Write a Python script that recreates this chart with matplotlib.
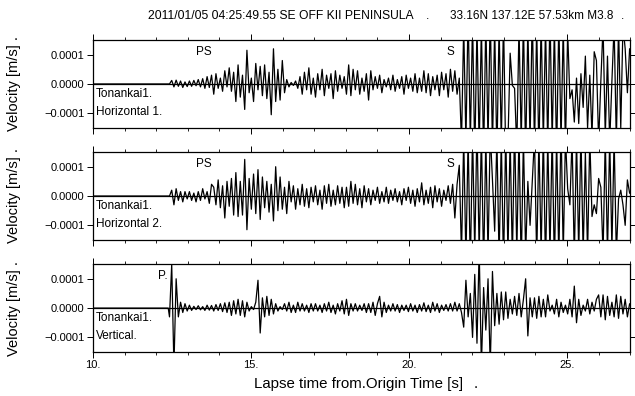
import numpy as np
import matplotlib
matplotlib.use("Agg")
import matplotlib.pyplot as plt

plt.rcParams['font.family'] = ['Liberation Sans', 'DejaVu Sans']

# peak velocities in 1e-5 m/s, one value every DT seconds from START
START = 12.42
DT = 0.07

h1 = [
    0, 1.2, -1.0, 1.3, -0.8, 1.0, -1.2, 0.7, -0.9, 1.0,
    -0.8, 1.2, -0.6, 1.5, -1.0, 1.8, -1.5, 2.5, -1.2, 3.0,
    -3.5, 3.5, -1.5, 2.0, -2.5, 4.5, -1.0, 5.5, -2.5, 4.0,
    -6.0, 6.5, -4.5, 3.0, -8.7, 11.5, -3.0, 2.0, -6.0, 7.0,
    -2.0, 6.0, -4.0, 6.5, -5.0, 4.0, -10.5, 12.0, -6.0, 5.0,
    -5.5, 8.0, -3.0, 1.5, -1.0, 0.5, -0.5, 1.0, -1.5, 2.5,
    -3.5, 4.0, -2.0, 5.5, -3.5, 2.0, -4.5, 3.5, -2.0, 5.0,
    -4.0, 3.0, -1.5, 3.5, -5.0, 4.5, -2.5, 3.0, -1.5, 2.5,
    -3.5, 6.5, -4.0, 5.0, -2.0, 4.5, -3.5, 2.0, -2.5, 3.5,
    -5.5, 4.5, -2.0, 2.5, -1.5, 3.0, -3.0, 1.5, -1.0, 2.0,
    -2.0, 3.0, -2.5, 1.5, -1.5, 2.5, -3.5, 3.0, -1.5, 2.0,
    -2.5, 3.5, -3.0, 2.0, -2.5, 4.5, -3.0, 3.5, -4.0, 2.5,
    -2.0, 3.0, -4.0, 4.0, -2.0, 3.5, -4.5, 5.0, -2.5, 4.5,
    -3.5, 2.0, -20, 20, -20, 25, -20, 22, -25, 20,
    -22, 20, -25, 22, -20, 25, -22, 20, -25, 20,
    -20, 22, -25, -20, 10.5, -0.5, -1.5, -22, 20, -20,
    22, -25, 20, -20, 25, -22, 20, -25, 22, -20,
    20, -22, 25, -20, 20, -25, 22, -20, 20, -22,
    18, -5.0, -2.0, -13.0, 2.0, -13.5, 3.5, -8.0, 9.5, -15,
    3.0, -18, 11, 8, -20, 1.0, 20, -18, 9.5, -20,
    1.0, 20, -20, 20, -15, 20, 12, -3, 12, 12,
]

h2 = [
    0, 2.0, -3.0, 2.5, -1.5, 1.5, -2.0, 1.5, -1.0, 1.5,
    -1.5, 1.0, -2.0, 1.5, -1.5, 2.5, -1.0, 1.5, -2.5, 4.0,
    3.0, -3.0, 5.5, -4.0, 3.5, -7.5, 5.0, -3.5, 6.0, -6.5,
    8.0, -7.0, 5.0, -6.5, 12.5, -11.5, 6.0, -4.5, 7.5, -6.0,
    9.0, -8.0, 6.5, -4.0, 5.0, -5.5, 4.0, -8.5, 10.0, -5.0,
    6.5, -4.5, 3.0, -6.0, 5.0, -2.0, 3.5, -4.5, 2.5, -3.0,
    4.0, -3.5, 2.5, -4.0, 3.0, -2.0, 3.5, -3.0, 2.0, -4.5,
    3.5, -2.5, 4.0, -3.5, 2.0, -3.0, 3.5, -2.5, 3.0, -4.0,
    3.0, -3.5, 5.0, -2.5, 4.0, -3.0, 2.5, -4.0, 3.5, -2.0,
    2.5, -3.0, 2.0, -1.5, 3.0, -2.5, 1.5, -2.0, 3.0, -2.5,
    2.0, -1.5, 2.5, -2.0, 1.5, -3.0, 2.5, -1.5, 3.0, -2.5,
    2.0, -3.5, 2.5, -2.0, 4.5, -3.0, 2.0, -2.5, 3.0, -4.0,
    3.5, -2.0, 2.5, -3.5, 2.0, -1.5, 3.5, -2.5, 4.0, -7.5,
    4.0, 10.5, -20, 20, -22, 20, -25, 22, -20, 25,
    -20, 22, -25, 20, -20, 22, 5.5, -12, 20, -22,
    20, -25, 22, -20, 20, -22, 25, -20, 22, -25,
    20, -20, 5, -10, 5, 20, -22, 20, -20, 22,
    -25, 20, -20, 22, -25, 20, -22, 25, -20, 20,
    2.5, -3.0, 20, -22, 20, -20, 22, -20, 15, -20,
    20, -7.0, -3.0, -6.0, 6.0, 3.0, -20, 20, -20, 20,
    -18, 20, -20, -1.0, 2.0, -3.0, -10, 5.5, 1.0, 0.5,
]

vert = [
    -3.0, 15.0, -20, 10.0, -3.0, 2.0, -1.5, 1.5, -1.0, 1.0,
    -0.8, 0.6, -0.5, 0.8, -0.6, 0.5, -0.8, 1.0, -0.7, 0.9,
    -1.0, 1.2, -0.8, 1.5, -1.2, 1.8, -1.5, 2.0, -2.5, 2.5,
    -2.0, 3.0, -2.5, 2.5, -3.0, 2.0, -1.0, 0.5, -0.5, 2.0,
    9.5, -8.5, 3.5, -3.0, 4.0, -2.5, 3.0, -2.0, 1.5, -1.0,
    0.5, -0.5, 1.5, -1.0, 2.0, -1.5, 1.0, -1.5, 2.0, -1.0,
    1.5, -1.0, 1.0, -1.5, 1.5, -1.0, 1.5, -1.0, 1.0, -1.5,
    1.5, -1.0, 2.0, -1.5, 1.0, -2.0, 1.5, -1.0, 2.5, -2.0,
    3.0, -2.5, 1.5, -1.0, 1.5, -1.0, 1.0, -0.8, 1.5, -1.5,
    1.5, -1.5, 2.0, -2.5, 1.5, 4.0, -3.0, 2.0, -1.5, 1.0,
    -1.0, 1.5, -1.0, 1.2, -1.5, 1.0, -0.8, 1.0, -1.2, 1.5,
    -1.0, 1.0, -1.5, 1.2, -1.0, 1.8, -1.2, 1.0, -1.5, 2.0,
    -1.0, 1.5, -1.5, 1.0, -0.8, 1.2, -1.0, 1.5, -1.0, 2.0,
    -1.0, 1.5, -1.5, -6.5, 9.5, -3.0, 5.0, -10.0, 11.5, -12.0,
    20, -20, 7.0, -7.5, 10.0, -20, 12.5, -6.0, 5.0, -5.5,
    5.5, -4.0, 5.5, -3.5, 3.0, -2.0, 4.0, -2.5, 5.0, -3.0,
    3.0, 10.0, -9.5, 3.5, -3.0, 3.5, -3.5, 4.0, -3.0, 3.0,
    -3.0, 4.5, -1.0, 1.0, -2.0, 3.0, -3.0, 2.0, -1.5, 1.0,
    -2.0, 3.0, -3.0, 7.5, -5.0, 3.0, -2.5, 1.0, -1.0, 3.0,
    -2.0, 2.0, -1.0, 3.0, 4.5, -3.0, 4.5, -4.0, 4.0, -2.5,
    2.0, -3.0, 4.5, -3.5, 4.0, -2.0, 3.0, -3.0, 1.5, 0.5,
]

components = ["Horizontal 1.", "Horizontal 2.", "Vertical."]
phases = [[("PS", 13.25), ("S", 21.2)], [("PS", 13.25), ("S", 21.2)], [("P.", 12.05)]]
xticks = [10, 15, 20, 25]
xticklabels = ["10.", "15.", "20.", "25."]
yticks = [-1e-4, 0, 1e-4]
yticklabels = ["\u22120.0001", "0.0000", "0.0001"]

fig = plt.figure(figsize=(6.35, 3.96), dpi=100)
left, width, height = 0.1465, 0.846, 0.222
bottoms = [0.677, 0.394, 0.111]

for i, vals in enumerate([h1, h2, vert]):
    ax = fig.add_axes([left, bottoms[i], width, height])
    t = np.concatenate([[10.0, START - 0.04], START + DT * np.arange(len(vals))])
    v = np.concatenate([[0.0, 0.0], np.array(vals) * 1e-5])
    ax.plot(t, v, color="black", lw=0.9)
    ax.axhline(0, color="black", lw=0.9)
    ax.set_xlim(10, 27)
    ax.set_ylim(-1.5e-4, 1.5e-4)
    ax.set_xticks(xticks)
    ax.set_xticks(np.arange(10, 28, 1), minor=True)
    ax.set_yticks(yticks)
    ax.set_yticklabels(yticklabels, fontsize=8)
    if i == 2:
        ax.set_xticklabels(xticklabels, fontsize=8)
    else:
        ax.set_xticklabels([])
    ax.tick_params(which="both", direction="out", top=True, right=True, labelsize=8, pad=2)
    ax.tick_params(which="major", length=4, width=0.7)
    ax.tick_params(which="minor", length=2, width=0.6)
    for sp in ax.spines.values():
        sp.set_linewidth(0.9)
    ax.set_ylabel("Velocity [m/s] .", fontsize=10.5)
    ax.yaxis.set_label_coords(-0.135, 0.5)
    ax.text(10.1, -0.35e-4, "Tonankai1.", fontsize=8.5, va="center")
    ax.text(10.1, -0.95e-4, components[i], fontsize=8.5, va="center")
    for name, tp in phases[i]:
        ax.text(tp, 1.1e-4, name, fontsize=8.5, va="center")

fig.text(148 / 635, 0.952, "2011/01/05 04:25:49.55 SE OFF KII PENINSULA", fontsize=8.7)
fig.text(426 / 635, 0.952, ".", fontsize=8.7)
fig.text(450 / 635, 0.952, "33.16N 137.12E 57.53km M3.8", fontsize=8.5)
fig.text(621 / 635, 0.952, ".", fontsize=8.5)
fig.text(254 / 635, 0.02, "Lapse time from.Origin Time [s]", fontsize=10.8)
fig.text(474 / 635, 0.02, ".", fontsize=10.8)

fig.savefig("out.png", dpi=100)
